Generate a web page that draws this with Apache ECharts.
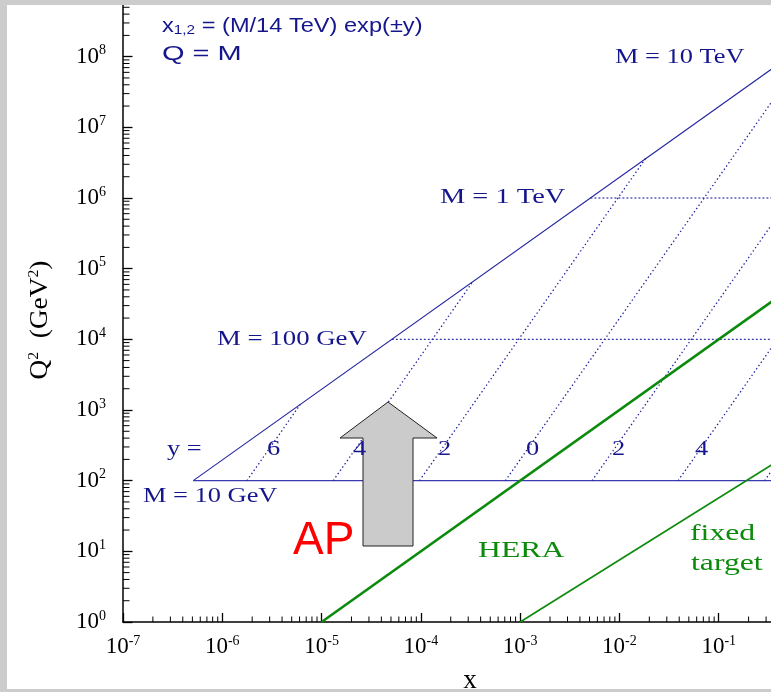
<!DOCTYPE html>
<html>
<head>
<meta charset="utf-8">
<script src="https://cdn.jsdelivr.net/npm/echarts@6/dist/echarts.min.js"></script>
<style>
html, body { margin: 0; padding: 0; background: #fff; }
#kin { width: 771px; height: 692px; }
</style>
</head>
<body>
<div id="kin"></div>
<script>
// values: [x, Q^2 (GeV^2)]
var limitLine   = [[5.1e-7, 1e2], [1, 1.96e8]];
var m10GeVLine  = [[5.1e-7, 1e2], [1, 1e2]];
var m100GeVLine = [[5.1e-5, 1e4], [1, 1e4]];
var m1TeVLine   = [[5.1e-3, 1e6], [1, 1e6]];

var rapidityNames = ['y=6', 'y=4', 'y=2', 'y=0', 'y=-2', 'y=-4', 'y=-6'];
var rapidityLines = [
    [[1.77e-6, 1e2], [6.1e-6, 1.2e3]],
    [[1.31e-5, 1e2], [3.35e-4, 6.6e4]],
    [[9.7e-5, 1e2], [1.83e-2, 3.6e6]],
    [[7.1e-4, 1e2], [1, 1.96e8]],
    [[5.3e-3, 1e2], [1, 3.6e6]],
    [[3.9e-2, 1e2], [1, 6.6e4]],
    [[2.9e-1, 1e2], [1, 1.2e3]]
];

var heraLine        = [[1e-5, 1], [1, 1e5]];
var fixedTargetLine = [[1e-3, 1], [1, 430]];

var xMin = 1e-7, xMax = 1, yMin = 1, yMax = 1e9;
var minorSteps = [2, 3, 4, 5, 6, 7, 8, 9];

var navy = '#16168c';
var lineBlue = '#2323a0';
var green = '#0b8a0b';
var serif = 'Liberation Serif';
var sans = 'Liberation Sans';

function minorTicks(lo, hi) {
    var out = [];
    for (var d = lo; d < hi; d++) {
        minorSteps.forEach(function (m) { out.push(m * Math.pow(10, d)); });
    }
    return out;
}
var xMinor = minorTicks(-7, 0).map(function (v) { return [v, yMin]; });
var yMinor = minorTicks(0, 9).map(function (v) { return [xMin, v]; });

function powLabel(v) {
    var e = Math.round(Math.log(v) / Math.LN10);
    return '{b|10}{s|' + e + '}';
}
var labelRich = {
    b: { fontSize: 23, fontFamily: serif, color: '#000', lineHeight: 26 },
    s: { fontSize: 14, fontFamily: serif, color: '#000', lineHeight: 11, verticalAlign: 'top' }
};

function plainLine(name, data, color, width, type) {
    return {
        name: name, type: 'line', data: data, showSymbol: false, silent: true,
        animation: false, z: 3,
        lineStyle: { color: color, width: width, type: type || 'solid' }
    };
}

var series = [];
series.push(plainLine('limit', limitLine, lineBlue, 1.1));
series.push(plainLine('M=10GeV', m10GeVLine, '#3a3ab0', 1.3));
series.push(plainLine('M=100GeV', m100GeVLine, lineBlue, 1.1, [2, 2]));
series.push(plainLine('M=1TeV', m1TeVLine, lineBlue, 1.1, [2, 2]));
rapidityLines.forEach(function (d, i) {
    series.push(plainLine(rapidityNames[i], d, lineBlue, 1.3, [1.4, 2.6]));
});
series.push(plainLine('HERA', heraLine, green, 2.6));
series.push(plainLine('fixed target', fixedTargetLine, green, 1.6));

series.push({
    type: 'custom', data: xMinor, silent: true, animation: false, z: 4,
    renderItem: function (params, api) {
        var p = api.coord([api.value(0), api.value(1)]);
        return { type: 'line', shape: { x1: p[0], y1: p[1], x2: p[0], y2: p[1] - 5.5 },
                 style: { stroke: '#000', lineWidth: 1 } };
    }
});
series.push({
    type: 'custom', data: yMinor, silent: true, animation: false, z: 4,
    renderItem: function (params, api) {
        var p = api.coord([api.value(0), api.value(1)]);
        return { type: 'line', shape: { x1: p[0], y1: p[1], x2: p[0] + 6.5, y2: p[1] },
                 style: { stroke: '#000', lineWidth: 1 } };
    }
});

function txt(x, y, s, fs, fill, family, sx, rich) {
    return {
        type: 'text', x: x, y: y, scaleX: sx || 1, z: 50, silent: true,
        style: { text: s, fontSize: fs, fontFamily: family, fill: fill,
                 align: 'left', verticalAlign: 'middle',
                 textAlign: 'left', textVerticalAlign: 'middle', rich: rich }
    };
}

var graphics = [
    txt(162, 26.5, 'x{sub|1,2} = (M/14 TeV) exp(\u00b1y)', 20, navy, sans, 1.18, {
        sub: { fontSize: 13, fontFamily: sans, fill: navy, color: navy, lineHeight: 10, verticalAlign: 'bottom' }
    }),
    txt(162, 54.5, 'Q = M', 20, navy, sans, 1.45),
    txt(615, 57.4, 'M = 10 TeV', 20, navy, serif, 1.32),
    txt(440, 197.4, 'M = 1 TeV', 20, navy, serif, 1.42),
    txt(217, 339.4, 'M = 100 GeV', 20, navy, serif, 1.34),
    txt(143, 496.4, 'M = 10 GeV', 20, navy, serif, 1.32),
    txt(167, 449.4, 'y =', 20, navy, serif, 1.32),
    txt(267, 449.4, '6', 20, navy, serif, 1.32),
    txt(353, 449.4, '4', 20, navy, serif, 1.32),
    txt(438, 449.4, '2', 20, navy, serif, 1.32),
    txt(526, 449.4, '0', 20, navy, serif, 1.32),
    txt(612, 449.4, '2', 20, navy, serif, 1.32),
    txt(695, 449.4, '4', 20, navy, serif, 1.32),
    txt(478, 551.4, 'HERA', 23, green, serif, 1.38),
    txt(690, 534, 'fixed', 23, green, serif, 1.38),
    txt(691, 564, 'target', 23, green, serif, 1.38),
    txt(293, 541, 'AP', 46, '#ff0000', sans, 1),
    {
        type: 'polygon', z: 40, silent: true,
        shape: { points: [[388, 402], [437, 438], [413, 438], [413, 546], [363, 546], [363, 438], [340, 438]] },
        style: { fill: '#cbcbcb', stroke: '#222', lineWidth: 1 }
    },
    {
        type: 'text', x: 40, y: 320, rotation: Math.PI / 2, scaleX: 1.05, z: 50, silent: true,
        style: { text: 'Q{s|2}  (GeV{s|2})', fontSize: 26, fontFamily: serif, fill: '#000',
                 align: 'center', verticalAlign: 'middle', textAlign: 'center', textVerticalAlign: 'middle',
                 rich: { s: { fontSize: 15, fontFamily: serif, fill: '#000', color: '#000', lineHeight: 12, verticalAlign: 'top' } } }
    },
    {
        type: 'text', x: 470, y: 681, z: 50, silent: true,
        style: { text: 'x', fontSize: 27, fontFamily: serif, fill: '#000',
                 align: 'center', verticalAlign: 'middle', textAlign: 'center', textVerticalAlign: 'middle' }
    },
    // grey frame around the picture
    { type: 'rect', z: 100, silent: true, shape: { x: 0, y: 0, width: 7, height: 692 }, style: { fill: '#cccccc' } },
    { type: 'rect', z: 100, silent: true, shape: { x: 0, y: 0, width: 771, height: 5 }, style: { fill: '#cccccc' } },
    { type: 'rect', z: 100, silent: true, shape: { x: 0, y: 689, width: 771, height: 3 }, style: { fill: '#cccccc' } }
];

var chart = echarts.init(document.getElementById('kin'));
var option = {
    backgroundColor: '#fff',
    animation: false,
    grid: { left: 123, right: -47, top: -14, bottom: 70, outerBoundsMode: 'none' },
    xAxis: {
        type: 'log', logBase: 10, min: xMin, max: xMax, splitNumber: 7,
        axisLine: { lineStyle: { color: '#000', width: 1.5 } },
        axisTick: { inside: true, length: 9, lineStyle: { color: '#000', width: 1.3 } },
        axisLabel: { margin: 12, formatter: powLabel, rich: labelRich },
        splitLine: { show: false }
    },
    yAxis: {
        type: 'log', logBase: 10, min: yMin, max: yMax, splitNumber: 9,
        axisLine: { lineStyle: { color: '#000', width: 1.5 } },
        axisTick: { inside: true, length: 9.5, lineStyle: { color: '#000', width: 1.3 } },
        axisLabel: { margin: 17, formatter: powLabel, rich: labelRich },
        splitLine: { show: false }
    },
    series: series,
    graphic: graphics
};
chart.setOption(option);
</script>
</body>
</html>
